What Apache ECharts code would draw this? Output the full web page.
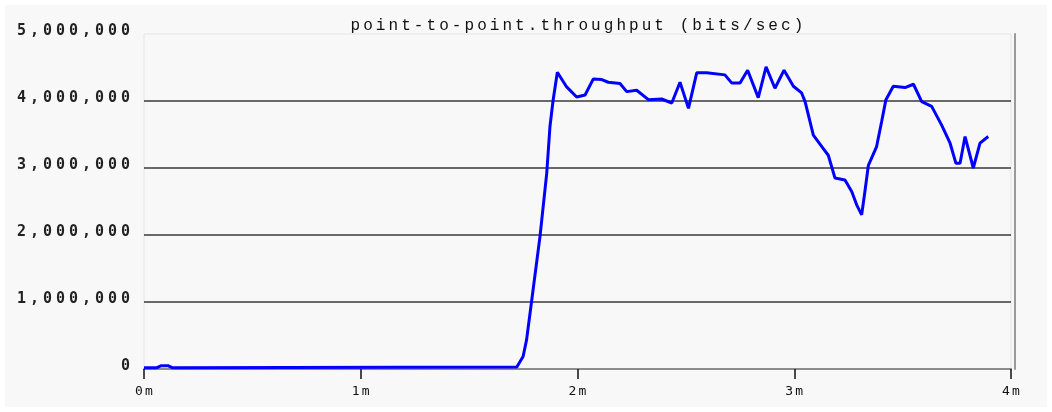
<!DOCTYPE html>
<html>
<head>
<meta charset="utf-8">
<script src="https://cdn.jsdelivr.net/npm/echarts@6/dist/echarts.min.js"></script>
<style>
html,body{margin:0;padding:0;background:#ffffff;width:1052px;height:412px;overflow:hidden;}
#chart{position:absolute;left:5px;top:5px;width:1042px;height:402px;background:#f8f8f8;}
</style>
</head>
<body>
<div id="chart"></div>
<script>
const titleText = 'point-to-point.throughput (bits/sec)';
const timeMin = [0, 0.06, 0.08, 0.11, 0.13, 1.72, 1.749, 1.765, 1.789, 1.827, 1.858, 1.873, 1.887, 1.907, 1.95, 1.996, 2.035, 2.073, 2.112, 2.142, 2.196, 2.227, 2.273, 2.327, 2.388, 2.435, 2.473, 2.512, 2.55, 2.596, 2.68, 2.711, 2.75, 2.785, 2.834, 2.87, 2.911, 2.953, 2.996, 3.034, 3.05, 3.088, 3.134, 3.157, 3.188, 3.234, 3.265, 3.288, 3.311, 3.326, 3.342, 3.38, 3.403, 3.423, 3.457, 3.511, 3.55, 3.588, 3.634, 3.68, 3.719, 3.746, 3.765, 3.788, 3.826, 3.857, 3.895];
const throughput = [20000, 20000, 50000, 50000, 20000, 30000, 186000, 435000, 1030000, 1980000, 2920000, 3620000, 4000000, 4430000, 4210000, 4060000, 4090000, 4330000, 4320000, 4280000, 4260000, 4140000, 4160000, 4020000, 4030000, 3970000, 4280000, 3890000, 4420000, 4420000, 4390000, 4270000, 4270000, 4460000, 4050000, 4510000, 4190000, 4460000, 4220000, 4120000, 3990000, 3490000, 3290000, 3190000, 2850000, 2820000, 2650000, 2450000, 2300000, 2650000, 3040000, 3320000, 3690000, 4020000, 4220000, 4200000, 4250000, 3990000, 3920000, 3640000, 3370000, 3070000, 3070000, 3470000, 3000000, 3370000, 3470000];
const xTicks = [0, 1, 2, 3, 4];
const yTicks = [0, 1000000, 2000000, 3000000, 4000000, 5000000];

function spaced(str, style) {
  return str.split('').map(c => '{' + style + '|' + c + '}').join('');
}
function fmtNum(v) {
  return String(Math.round(v)).replace(/\B(?=(\d{3})+(?!\d))/g, ',');
}

const chart = echarts.init(document.getElementById('chart'), null, {renderer: 'canvas'});
const data = timeMin.map((t, i) => [t, throughput[i]]);

chart.setOption({
  backgroundColor: '#f8f8f8',
  animation: false,
  title: {
    text: spaced(titleText, 't'),
    left: 339,
    top: 8,
    textStyle: {
      rich: {
        t: {width: 12.66, align: 'center', fontFamily: 'Liberation Mono', fontSize: 16, color: '#111', fontWeight: 'normal'}
      }
    }
  },
  grid: {
    left: 139, right: 36, top: 29, bottom: 38,
    show: true, borderColor: '#e4e4e4', borderWidth: 1, backgroundColor: 'transparent'
  },
  xAxis: {
    type: 'value',
    min: xTicks[0], max: xTicks[xTicks.length - 1], interval: 1,
    axisLine: {show: true, lineStyle: {color: '#8c8c8c', width: 2}},
    axisTick: {show: true, length: 10, lineStyle: {color: '#111', width: 1.5}},
    axisLabel: {
      margin: 16,
      formatter: v => Number.isInteger(v) ? spaced(v + 'm', 'x') : '',
      rich: {
        x: {width: 10, align: 'center', fontFamily: 'DejaVu Sans Mono', fontSize: 13, color: '#111'}
      }
    },
    splitLine: {show: false}
  },
  yAxis: [{
    type: 'value',
    min: yTicks[0], max: yTicks[yTicks.length - 1], interval: 1000000,
    axisLine: {show: false},
    axisTick: {show: false},
    axisLabel: {
      margin: 12,
      padding: [0, 0, 6, 0],
      formatter: v => spaced(fmtNum(v), 'd'),
      rich: {
        d: {width: 13, align: 'center', fontFamily: 'DejaVu Sans Mono', fontSize: 15, fontWeight: 'bold', color: '#222'}
      }
    },
    splitLine: {
      show: true,
      lineStyle: {color: ['transparent', '#3a3a3a', '#3a3a3a', '#3a3a3a', '#3a3a3a', 'transparent'], width: 1.5}
    }
  }, {
    type: 'value',
    position: 'right',
    offset: 4,
    min: yTicks[0], max: yTicks[yTicks.length - 1], interval: 1000000,
    axisLine: {show: true, lineStyle: {color: '#9a9a9a', width: 2}},
    axisTick: {show: false},
    axisLabel: {show: false},
    splitLine: {show: false}
  }],
  series: [{
    type: 'line',
    data: data,
    yAxisIndex: 0,
    showSymbol: false,
    symbol: 'none',
    smooth: false,
    lineStyle: {color: '#0000ff', width: 3},
    itemStyle: {color: '#0000ff'}
  }]
});
</script>
</body>
</html>
